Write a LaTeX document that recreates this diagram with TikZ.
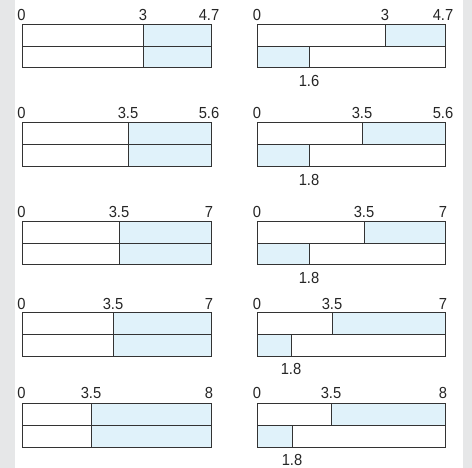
\documentclass[tikz,border=0pt]{standalone}
\usepackage{fontspec}
\setmainfont{Liberation Sans}[FakeStretch=0.92]
\definecolor{pagegray}{HTML}{E6E7E8}
\definecolor{partblue}{HTML}{E0F2FA}
\definecolor{barline}{HTML}{333333}
\tikzset{
  barframe/.style={draw=barline, line width=1pt},
  partfill/.style={fill=partblue},
  numlabel/.style={font=\fontsize{16}{18}\selectfont, inner sep=0pt, text=black!85},
}

\begin{document}
\begin{tikzpicture}[x=1pt, y=-1pt]
\fill[pagegray] (0,0) rectangle (472,468);
\fill[white] (15,0) rectangle (463,468);
\useasboundingbox (0,0) rectangle (472,468);
% rows: top/bottom, left split, right top split, right bottom split, labels
\foreach \t/\b/\ls/\rs/\bs/\mid/\e/\low [count=\i] in {25/68/143/385/309/3/4.7/1.6, 123/167/128/362/309/3.5/5.6/1.8, 222/265/119/364/309/3.5/7/1.8, 313/356/113/332/291/3.5/7/1.8, 403/447/91/331/292/3.5/8/1.8} {
  \pgfmathsetmacro{\m}{(\t+\b)/2}
  % left bar
  \fill[partfill] (\ls,\t) rectangle (211,\b);
  \draw[barframe] (22.5,\t) rectangle (211,\b);
  \draw[barframe] (22.5,\m) -- (211,\m);
  \draw[barframe] (\ls,\t) -- (\ls,\b);
  \node[numlabel, anchor=base] (lzero\i) at (21.5,\t-4) {0};
  \node[numlabel, anchor=base] (lmid\i) at (\ls,\t-4) {\mid};
  \node[numlabel, anchor=base] (lend\i) at (209,\t-4) {\e};
  % right bar
  \fill[partfill] (\rs,\t) rectangle (445,\m);
  \fill[partfill] (257,\m) rectangle (\bs,\b);
  \draw[barframe] (257,\t) rectangle (445,\b);
  \draw[barframe] (257,\m) -- (445,\m);
  \draw[barframe] (\rs,\t) -- (\rs,\m);
  \draw[barframe] (\bs,\m) -- (\bs,\b);
  \node[numlabel, anchor=base] (rzero\i) at (257,\t-4) {0};
  \node[numlabel, anchor=base] (rmid\i) at (\rs,\t-4) {\mid};
  \node[numlabel, anchor=base] (rend\i) at (443,\t-4) {\e};
  \node[numlabel, anchor=north] (rlow\i) at (\bs,\b+7.5) {\low};
}
\end{tikzpicture}
\end{document}
